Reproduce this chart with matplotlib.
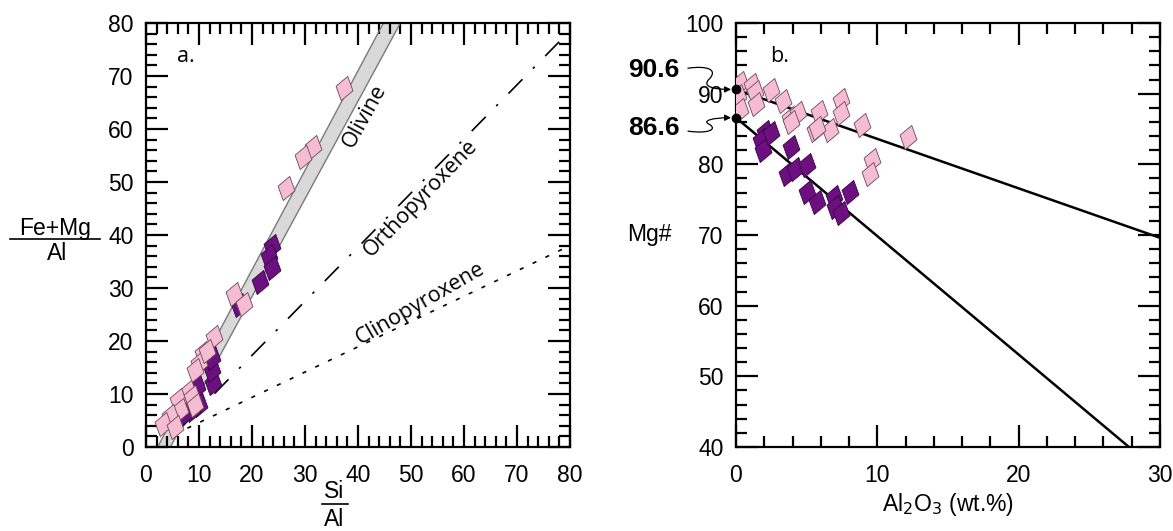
import numpy as np
import matplotlib.pyplot as plt
from matplotlib.markers import MarkerStyle
from matplotlib.path import Path
from matplotlib.patches import FancyArrowPatch
from matplotlib.lines import Line2D
from matplotlib.transforms import Affine2D
from matplotlib.ticker import MultipleLocator

plt.rcParams['font.family'] = ['Liberation Sans', 'DejaVu Sans']

# (a) Si/Al vs (Fe+Mg)/Al
pink_si = [37.3, 31.5, 29.6, 26.5, 16.6, 18.4, 12.9, 10.8, 10.0, 9.3, 11.5,
           7.9, 6.1, 6.4, 4.6, 3.2, 8.6, 9.3, 5.4]
pink_femg = [67.8, 56.6, 54.7, 48.8, 28.8, 27.0, 20.8, 17.8, 15.9, 14.6, 18.1,
             10.4, 8.8, 6.9, 5.9, 4.3, 9.5, 7.9, 3.7]
purple_si = [23.8, 23.3, 23.7, 21.6, 17.6, 12.6, 12.4, 12.4, 9.7, 10.0, 8.6, 7.2]
purple_femg = [37.9, 36.0, 33.8, 31.2, 26.7, 12.0, 14.6, 16.8, 11.4, 7.9, 6.9, 6.3]

# olivine band edges, opx and cpx reference lines (x0, y0, x1, y1)
olivine_lo = [2.2, 0, 44.8, 80]
olivine_hi = [4.6, 0, 48.0, 80]
opx_line = [6.0, 3.0, 78.0, 76.5]
cpx_line = [5.4, 2.4, 80.0, 38.0]

# (b) Al2O3 vs Mg#
pink_al = [0.28, 0.16, 0.28, 1.1, 1.34, 1.41, 2.5, 3.3, 3.8, 4.4, 3.9, 5.6,
           5.9, 6.65, 7.4, 7.4, 8.9, 9.6, 9.5, 12.2, 5.75]
pink_mg = [91.5, 89.6, 87.7, 91.2, 90.3, 88.6, 90.5, 88.9, 86.5, 87.2, 86.0,
           84.9, 87.4, 84.9, 89.1, 87.2, 85.6, 80.6, 78.7, 83.9, 85.1]
purple_al = [2.05, 1.8, 1.9, 2.45, 3.9, 3.6, 4.2, 5.0, 5.0, 5.7, 6.9, 7.0, 7.4, 8.1]
purple_mg = [84.6, 83.4, 82.0, 84.4, 82.5, 78.7, 79.4, 79.9, 76.1, 74.7, 75.4,
             74.0, 73.1, 76.1]

mg_upper = 90.6
mg_lower = 86.6
slope_upper = -0.70
slope_lower = -1.676

pink = '#f6bdd2'
pink_edge = '#6a4858'
purple = '#6c0f80'
purple_edge = '#35073f'

diamond = Path([(0, 1), (0.7, 0), (0, -1), (-0.7, 0), (0, 1)],
               [Path.MOVETO, Path.LINETO, Path.LINETO, Path.LINETO, Path.CLOSEPOLY])
marker = MarkerStyle(diamond, transform=Affine2D().rotate_deg(-15))
msize = 18

fig = plt.figure(figsize=(11.73, 5.31), dpi=100)
ax1 = fig.add_axes([146 / 1173, 84 / 531, 424 / 1173, 424 / 531])
ax2 = fig.add_axes([736 / 1173, 84 / 531, 424 / 1173, 424 / 531])


def style_axes(ax, major, minor):
    ax.xaxis.set_major_locator(MultipleLocator(major[0]))
    ax.yaxis.set_major_locator(MultipleLocator(major[1]))
    ax.xaxis.set_minor_locator(MultipleLocator(minor[0]))
    ax.yaxis.set_minor_locator(MultipleLocator(minor[1]))
    ax.tick_params(which='both', direction='in', top=True, right=True,
                   width=1.6, color='black')
    ax.tick_params(which='major', length=15.5, labelsize=16.5)
    ax.tick_params(axis='x', which='major', pad=12)
    ax.tick_params(axis='y', which='major', pad=9)
    ax.tick_params(which='minor', length=8)
    for s in ax.spines.values():
        s.set_linewidth(1.6)


# --- panel a
ax1.set_xlim(0, 80)
ax1.set_ylim(0, 80)
style_axes(ax1, (10, 10), (2, 2))

xb = np.array([olivine_lo[0], olivine_lo[2], olivine_hi[2], olivine_hi[0]])
yb = np.array([olivine_lo[1], olivine_lo[3], olivine_hi[3], olivine_hi[1]])
ax1.fill(xb, yb, facecolor='#d9d9d9', edgecolor='none', zorder=1)
ax1.plot(olivine_lo[0::2], olivine_lo[1::2], color='#7a7a7a', lw=1.0, zorder=2)
ax1.plot(olivine_hi[0::2], olivine_hi[1::2], color='#7a7a7a', lw=1.0, zorder=2)
ax1.plot(opx_line[0::2], opx_line[1::2], color='black', lw=1.2,
         linestyle=(0, (12, 9, 1.5, 9)), zorder=2)
ax1.plot(cpx_line[0::2], cpx_line[1::2], color='black', lw=1.2,
         linestyle=(0, (2.5, 6)), zorder=2)

ax1.plot(purple_si, purple_femg, linestyle='none', marker=marker, ms=msize,
         mfc=purple, mec=purple_edge, mew=0.6, zorder=3)
ax1.plot(pink_si, pink_femg, linestyle='none', marker=marker, ms=msize,
         mfc=pink, mec=pink_edge, mew=0.6, zorder=4)

label_font = dict(family=['Open Sans', 'DejaVu Sans'], fontsize=15.5)
ax1.text(41.3, 62.5, 'Olivine', rotation=61, ha='center', va='center', **label_font)
ax1.text(51.8, 47.0, 'Orthopyroxene', rotation=46, ha='center', va='center', **label_font)
ax1.text(51.8, 27.0, 'Clinopyroxene', rotation=30, ha='center', va='center', **label_font)
ax1.text(7.5, 73.6, 'a.', ha='center', va='center', **label_font)

# fraction-style axis labels
fig.text(55 / 1173, 1 - 228 / 531, 'Fe+Mg', ha='center', va='center', fontsize=16.5)
fig.text(57 / 1173, 1 - 253 / 531, 'Al', ha='center', va='center', fontsize=16.5)
fig.add_artist(Line2D([10 / 1173, 100 / 1173], [1 - 239 / 531, 1 - 239 / 531],
                      color='black', lw=1.2))
fig.text(334 / 1173, 1 - 491 / 531, 'Si', ha='center', va='center', fontsize=16.5)
fig.text(334 / 1173, 1 - 519 / 531, 'Al', ha='center', va='center', fontsize=16.5)
fig.add_artist(Line2D([322 / 1173, 348 / 1173], [1 - 504 / 531, 1 - 504 / 531],
                      color='black', lw=1.2))

# --- panel b
ax2.set_xlim(0, 30)
ax2.set_ylim(40, 100)
style_axes(ax2, (10, 10), (2, 2))

xl = np.array([0, 30])
ax2.plot(xl, mg_upper + slope_upper * xl, color='black', lw=1.8, zorder=2)
x_end = (40 - mg_lower) / slope_lower
ax2.plot([0, x_end], [mg_lower, 40], color='black', lw=1.8, zorder=2)

ax2.plot(purple_al, purple_mg, linestyle='none', marker=marker, ms=msize,
         mfc=purple, mec=purple_edge, mew=0.6, zorder=3)
ax2.plot(pink_al, pink_mg, linestyle='none', marker=marker, ms=msize,
         mfc=pink, mec=pink_edge, mew=0.6, zorder=4)
ax2.plot([0, 0], [mg_upper, mg_lower], linestyle='none', marker='o', ms=6,
         color='black', zorder=5, clip_on=False)

ax2.text(3.1, 95.2, 'b.', ha='center', va='center', **label_font)
ax2.text(-7.6, 93.3, f'{mg_upper}', ha='left', va='center', fontsize=19,
         fontweight='bold')
ax2.text(-7.6, 85.2, f'{mg_lower}', ha='left', va='center', fontsize=19,
         fontweight='bold')
ax2.text(-6.1, 70, 'Mg#', ha='center', va='center', fontsize=16.5)
ax2.set_xlabel('Al$_2$O$_3$ (wt.%)', fontsize=16.5, labelpad=3)


def squiggle(ax, start, end, dy):
    # S-shaped leader from the label to the marked intercept
    x0, y0 = start
    x1, y1 = end
    mx = x0 + 0.5 * (x1 - x0)
    verts = [(x0, y0), (x0 + 0.45 * (x1 - x0), y0 + 0.4 * dy), (mx + 0.6, y0 - 0.2 * dy),
             (mx, (y0 + y1) / 2),
             (mx - 0.6, y1 + 0.4 * dy), (x0 + 0.6 * (x1 - x0), y1), (x1, y1)]
    codes = [Path.MOVETO] + [Path.CURVE4] * 6
    arr = FancyArrowPatch(path=Path(verts, codes), arrowstyle='-|>',
                          mutation_scale=9, lw=0.9, color='black',
                          clip_on=False, transform=ax.transData)
    ax.add_patch(arr)


squiggle(ax2, (-3.4, 93.6), (-0.35, mg_upper), 1)
squiggle(ax2, (-3.4, 84.7), (-0.35, mg_lower), -1)

fig.savefig('out.png', dpi=100)
